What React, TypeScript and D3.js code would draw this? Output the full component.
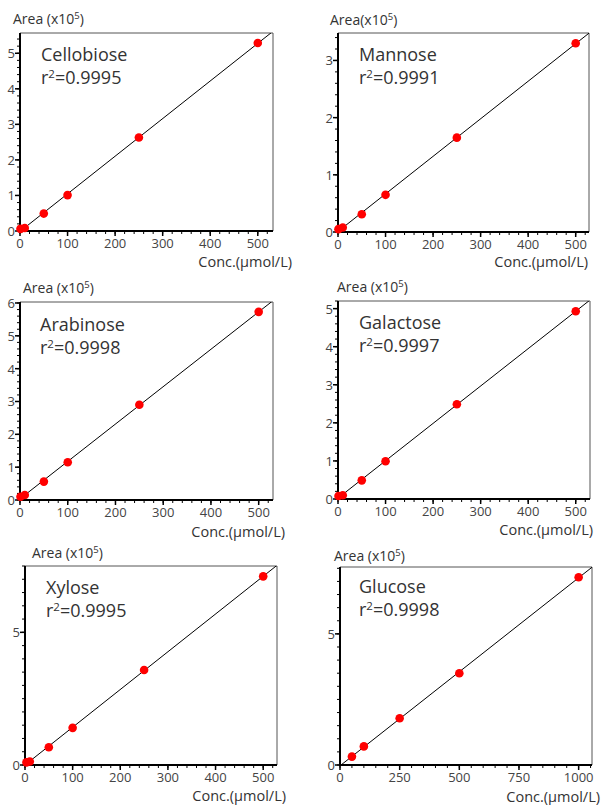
import React from "react";
import * as d3 from "d3";

const sugarNames = ["Cellobiose", "Mannose", "Arabinose", "Galactose", "Xylose", "Glucose"];
const r2Values = ["0.9995", "0.9991", "0.9998", "0.9997", "0.9995", "0.9998"];

const cellobioseConc = [1, 10, 50, 100, 250, 500];
const cellobioseArea = [0.06, 0.085, 0.49, 1.01, 2.63, 5.29];
const mannoseConc = [1, 10, 50, 100, 250, 500];
const mannoseArea = [0.05, 0.08, 0.31, 0.65, 1.65, 3.3];
const arabinoseConc = [1, 10, 50, 100, 250, 500];
const arabinoseArea = [0.1, 0.15, 0.56, 1.15, 2.9, 5.73];
const galactoseConc = [1, 10, 50, 100, 250, 500];
const galactoseArea = [0.08, 0.1, 0.49, 0.99, 2.49, 4.93];
const xyloseConc = [3, 10, 50, 100, 250, 500];
const xyloseArea = [0.1, 0.13, 0.67, 1.4, 3.58, 7.11];
const glucoseConc = [50, 100, 250, 500, 1000];
const glucoseArea = [0.32, 0.71, 1.78, 3.5, 7.16];

const concSeries = [cellobioseConc, mannoseConc, arabinoseConc, galactoseConc, xyloseConc, glucoseConc];
const areaSeries = [cellobioseArea, mannoseArea, arabinoseArea, galactoseArea, xyloseArea, glucoseArea];

const xDomainMax = [532, 528, 530, 530, 529, 1056];
const yDomainMax = [5.57, 3.48, 6.03, 5.2, 7.5, 7.55];
const xMajorTicks = [
  [0, 100, 200, 300, 400, 500],
  [0, 100, 200, 300, 400, 500],
  [0, 100, 200, 300, 400, 500],
  [0, 100, 200, 300, 400, 500],
  [0, 100, 200, 300, 400, 500],
  [0, 250, 500, 750, 1000],
];
const xMinorStep = [20, 20, 20, 20, 20, 50];
const yMajorTicks = [
  [0, 1, 2, 3, 4, 5],
  [0, 1, 2, 3],
  [0, 1, 2, 3, 4, 5, 6],
  [0, 1, 2, 3, 4, 5],
  [0, 5],
  [0, 5],
];
const yMinorStep = [0.2, 0.2, 0.2, 0.2, 0.5, 0.5];

const layout = [
  { l: 20, t: 33, r: 273, b: 231, areaX: 13, areaY: 24, nameX: 41, nameY: 61, r2Y: 84, concX: 292, concY: 267 },
  { l: 338, t: 33, r: 589, b: 232, areaX: 330, areaY: 25, nameX: 359, nameY: 61, r2Y: 84, concX: 588, concY: 267 },
  { l: 20, t: 302, r: 273, b: 500, areaX: 23, areaY: 293, nameX: 40, nameY: 331, r2Y: 354, concX: 285, concY: 537 },
  { l: 338, t: 301, r: 590, b: 499, areaX: 337, areaY: 292, nameX: 359, nameY: 329, r2Y: 352, concX: 593, concY: 535 },
  { l: 25, t: 566, r: 277, b: 765, areaX: 32, areaY: 558, nameX: 46, nameY: 594, r2Y: 617, concX: 286, concY: 801 },
  { l: 340, t: 567, r: 592, b: 765, areaX: 334, areaY: 561, nameX: 359, nameY: 593, r2Y: 616, concX: 600, concY: 802 },
];

const FONT = "'Open Sans', 'Noto Sans', sans-serif";

function regression(xs: number[], ys: number[]) {
  const mx = d3.mean(xs) as number;
  const my = d3.mean(ys) as number;
  let num = 0, den = 0;
  xs.forEach((x, i) => { num += (x - mx) * (ys[i] - my); den += (x - mx) * (x - mx); });
  const slope = num / den;
  return { slope, intercept: my - slope * mx };
}

function Panel({ i }: { i: number }) {
  const L = layout[i];
  const x = d3.scaleLinear().domain([0, xDomainMax[i]]).range([L.l, L.r]);
  const y = d3.scaleLinear().domain([0, yDomainMax[i]]).range([L.b, L.t]);
  const xs = concSeries[i];
  const ys = areaSeries[i];
  const reg = regression(xs, ys);
  const lineGen = d3.line<number>().x((d) => x(d)).y((d) => y(reg.slope * d + reg.intercept));
  const xMinor = d3.range(0, xDomainMax[i] + 1e-9, xMinorStep[i]);
  const yMinor = d3.range(0, yDomainMax[i] + 1e-9, yMinorStep[i]);
  const clipId = `clip${i}`;
  return (
    <g>
      <defs>
        <clipPath id={clipId}>
          <rect x={L.l} y={L.t} width={L.r - L.l} height={L.b - L.t} />
        </clipPath>
      </defs>
      {xMinor.map((v, k) => (
        <line key={"xm" + k} x1={x(v)} x2={x(v)} y1={L.b} y2={L.b + 3} stroke="#000" strokeWidth={1} />
      ))}
      {xMajorTicks[i].map((v, k) => (
        <line key={"xM" + k} x1={x(v)} x2={x(v)} y1={L.b} y2={L.b + 5} stroke="#000" strokeWidth={1.5} />
      ))}
      {yMinor.map((v, k) => (
        <line key={"ym" + k} x1={L.l - 3} x2={L.l} y1={y(v)} y2={y(v)} stroke="#000" strokeWidth={1} />
      ))}
      {yMajorTicks[i].map((v, k) => (
        <line key={"yM" + k} x1={L.l - 5} x2={L.l} y1={y(v)} y2={y(v)} stroke="#000" strokeWidth={1.5} />
      ))}
      <line x1={L.l} x2={L.r} y1={L.t} y2={L.t} stroke="#555" strokeWidth={1} />
      <line x1={L.r} x2={L.r} y1={L.t} y2={L.b} stroke="#555" strokeWidth={1} />
      <line x1={L.l} x2={L.l} y1={L.t} y2={L.b + 1} stroke="#000" strokeWidth={2} />
      <line x1={L.l - 1} x2={L.r} y1={L.b} y2={L.b} stroke="#000" strokeWidth={2} />
      {xMajorTicks[i].map((v, k) => (
        <text key={"xl" + k} x={x(v)} y={L.b + 17} textAnchor="middle" fontSize={13} fill="#444" fontFamily={FONT}>
          {v}
        </text>
      ))}
      {yMajorTicks[i].map((v, k) => (
        <text key={"yl" + k} x={L.l - 5} y={y(v) + 5} textAnchor="end" fontSize={13} fill="#444" fontFamily={FONT}>
          {v}
        </text>
      ))}
      <path d={lineGen([0, xDomainMax[i]]) as string} stroke="#000" strokeWidth={1} fill="none" clipPath={`url(#${clipId})`} />
      {xs.map((v, k) => (
        <circle key={"p" + k} cx={x(v)} cy={y(ys[k])} r={4.3} fill="#ff0000" />
      ))}
      <text x={L.areaX} y={L.areaY} fontSize={14} fill="#333" fontFamily={FONT}>
        {i === 1 ? "Area(x10" : "Area (x10"}
        <tspan fontSize={9.5} dy={-5}>5</tspan>
        <tspan dy={5}>)</tspan>
      </text>
      <text x={L.nameX} y={L.nameY} fontSize={18} fill="#333" fontFamily={FONT}>
        {sugarNames[i]}
      </text>
      <text x={L.nameX} y={L.r2Y} fontSize={18} fill="#333" fontFamily={FONT}>
        r<tspan fontSize={11.5} dy={-6}>2</tspan>
        <tspan dy={6}>={r2Values[i]}</tspan>
      </text>
      <text x={L.concX} y={L.concY} textAnchor="end" fontSize={14.5} fill="#333" fontFamily={FONT}>
        Conc.(µmol/L)
      </text>
    </g>
  );
}

export default function App() {
  return (
    <svg width={602} height={805} style={{ position: "absolute", left: 0, top: 0, background: "#fff" }}>
      <rect x={0} y={0} width={602} height={805} fill="#fff" />
      {sugarNames.map((_, i) => (
        <Panel key={i} i={i} />
      ))}
    </svg>
  );
}
